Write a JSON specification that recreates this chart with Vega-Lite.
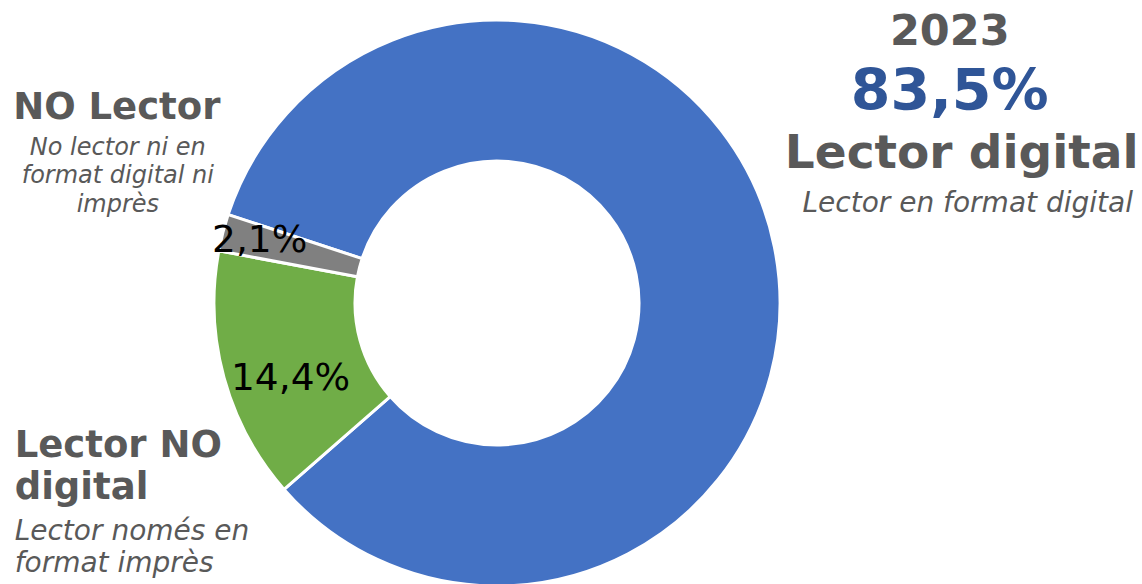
{
  "$schema": "https://vega.github.io/schema/vega-lite/v6.json",
  "width": 994,
  "height": 562,
  "autosize": {"type": "none"},
  "padding": {"left": 0, "top": 22, "right": 148, "bottom": 0},
  "background": "white",
  "config": {"view": {"stroke": null}},
  "data": {
    "values": [
      {"categoria": "Lector digital", "ordre": 1, "pct": 83.5, "etiqueta": "83,5%", "any": "2023", "titol": "Lector digital", "descripcio": "Lector en format digital"},
      {"categoria": "Lector NO digital", "ordre": 2, "pct": 14.4, "etiqueta": "14,4%", "any": "2023", "titol": "Lector NO\ndigital", "descripcio": "Lector només en\nformat imprès"},
      {"categoria": "NO Lector", "ordre": 3, "pct": 2.1, "etiqueta": "2,1%", "any": "2023", "titol": "NO Lector", "descripcio": "No lector ni en\nformat digital ni\nimprès"}
    ]
  },
  "encoding": {
    "theta": {"field": "pct", "type": "quantitative", "stack": true, "scale": {"range": [5.03004, 11.31322]}},
    "order": {"field": "ordre", "type": "quantitative", "sort": "ascending"}
  },
  "layer": [
    {
      "mark": {"type": "arc", "radius": 283, "radius2": 142, "stroke": "white", "strokeWidth": 3},
      "encoding": {
        "color": {"field": "categoria", "type": "nominal", "legend": null,
          "scale": {"domain": ["Lector digital", "Lector NO digital", "NO Lector"], "range": ["#4472C4", "#70AD47", "#808080"]}}
      }
    },
    {
      "mark": {"type": "text", "radius": 214, "dy": 31, "align": "center", "baseline": "alphabetic", "font": "DejaVu Sans", "fontSize": 37.5, "color": "#000000"},
      "encoding": {"text": {"condition": {"test": "datum.categoria === 'Lector NO digital'", "field": "etiqueta"}, "value": ""}}
    },
    {
      "mark": {"type": "text", "radius": 245, "dy": 10, "align": "center", "baseline": "alphabetic", "font": "DejaVu Sans", "fontSize": 37.5, "color": "#000000"},
      "encoding": {"text": {"condition": {"test": "datum.categoria === 'NO Lector'", "field": "etiqueta"}, "value": ""}}
    },
    {
      "mark": {"type": "text", "radius": 462, "dy": -166, "align": "center", "baseline": "alphabetic", "font": "DejaVu Sans", "fontWeight": "bold", "fontSize": 43, "color": "#595959"},
      "encoding": {"text": {"condition": {"test": "datum.categoria === 'Lector digital'", "field": "any"}, "value": ""}}
    },
    {
      "mark": {"type": "text", "radius": 462, "dy": -101, "align": "center", "baseline": "alphabetic", "font": "DejaVu Sans", "fontWeight": "bold", "fontSize": 57, "color": "#2F5597"},
      "encoding": {"text": {"condition": {"test": "datum.categoria === 'Lector digital'", "field": "etiqueta"}, "value": ""}}
    },
    {
      "mark": {"type": "text", "radius": 462, "dx": 12, "dy": -43, "align": "center", "baseline": "alphabetic", "font": "DejaVu Sans", "fontWeight": "bold", "fontSize": 47, "color": "#595959"},
      "encoding": {"text": {"condition": {"test": "datum.categoria === 'Lector digital'", "field": "titol"}, "value": ""}}
    },
    {
      "mark": {"type": "text", "radius": 462, "dx": 18, "dy": 1, "align": "center", "baseline": "alphabetic", "font": "DejaVu Sans", "fontStyle": "italic", "fontSize": 28, "color": "#595959"},
      "encoding": {"text": {"condition": {"test": "datum.categoria === 'Lector digital'", "field": "descripcio"}, "value": ""}}
    },
    {
      "mark": {"type": "text", "radius": 391.5, "dx": -1, "dy": -87, "align": "center", "baseline": "alphabetic", "font": "DejaVu Sans", "fontWeight": "bold", "fontSize": 37, "color": "#595959"},
      "encoding": {"text": {"condition": {"test": "datum.categoria === 'NO Lector'", "field": "titol"}, "value": ""}}
    },
    {
      "mark": {"type": "text", "radius": 391.5, "dy": -50.5, "align": "center", "baseline": "alphabetic", "lineBreak": "\n", "lineHeight": 28.3, "font": "DejaVu Sans", "fontStyle": "italic", "fontSize": 24, "color": "#595959"},
      "encoding": {"text": {"condition": {"test": "datum.categoria === 'NO Lector'", "field": "descripcio"}, "value": ""}}
    },
    {
      "mark": {"type": "text", "radius": 499, "dx": -1, "dy": 22, "align": "left", "baseline": "alphabetic", "lineBreak": "\n", "lineHeight": 42.7, "font": "DejaVu Sans", "fontWeight": "bold", "fontSize": 37, "color": "#595959"},
      "encoding": {"text": {"condition": {"test": "datum.categoria === 'Lector NO digital'", "field": "titol"}, "value": ""}}
    },
    {
      "mark": {"type": "text", "radius": 499, "dx": -1, "dy": 105.5, "align": "left", "baseline": "alphabetic", "lineBreak": "\n", "lineHeight": 31.7, "font": "DejaVu Sans", "fontStyle": "italic", "fontSize": 28, "color": "#595959"},
      "encoding": {"text": {"condition": {"test": "datum.categoria === 'Lector NO digital'", "field": "descripcio"}, "value": ""}}
    }
  ]
}
